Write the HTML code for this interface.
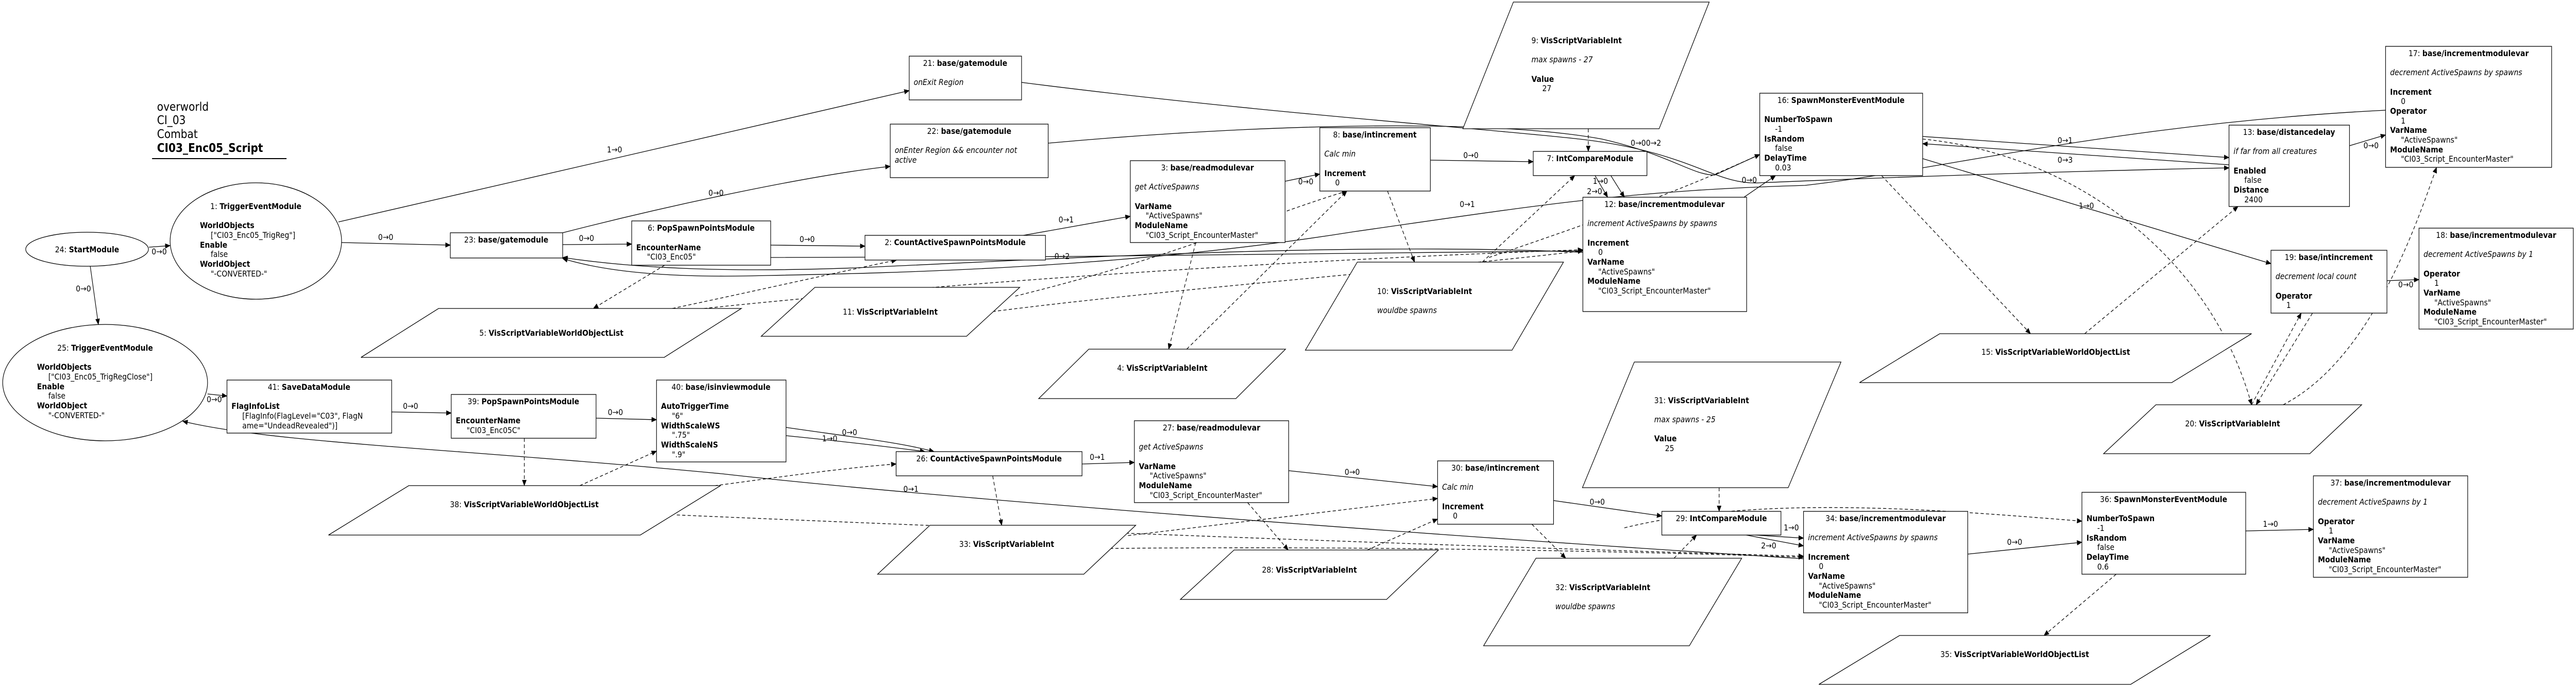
<!DOCTYPE html>
<html><head><meta charset="utf-8"><style>
html,body{margin:0;padding:0;background:#fff;width:100%;height:100%;overflow:hidden}
svg{display:block;width:100vw;height:100vh}
text{font-family:"DejaVu Sans","Liberation Sans",sans-serif;font-size:16px;fill:#000}
.b{font-weight:bold}
.i{font-style:italic}
.c{text-anchor:middle}
.n{fill:#fff;stroke:#000;stroke-width:1.3}
.e{fill:none;stroke:#000;stroke-width:1.3}
.d{fill:none;stroke:#000;stroke-width:1.3;stroke-dasharray:7,5}
.l{font-size:15px}
</style></head><body>
<svg viewBox="0 0 5709 1336" preserveAspectRatio="none" xmlns="http://www.w3.org/2000/svg" overflow="hidden">
<defs><marker id="a" markerWidth="12" markerHeight="10" refX="11" refY="5" orient="auto" markerUnits="userSpaceOnUse"><path d="M0,0 L12,5 L0,10 z" fill="#000"/></marker></defs>

<text x="348" y="215" style="font-size:23px">overworld</text>
<text x="348" y="241" style="font-size:23px">CI_03</text>
<text x="348" y="268" style="font-size:23px">Combat</text>
<text x="348" y="295" class="b" style="font-size:23px">CI03_Enc05_Script</text>
<line x1="337" y1="308" x2="635" y2="308" stroke="#000" stroke-width="2"/>

<g class="e" marker-end="url(#a)">
<path d="M330,480 L377,477"/>
<path d="M200,517 L218,630"/>
<path d="M750,431 L2015,176"/>
<path d="M1247,452 C1500,395 1800,340 1973,323"/>
<path d="M757,471 L998,476"/>
<path d="M1247,475 L1400,474"/>
<path d="M1708,476 L1917,478"/>
<path d="M2268,457 L2505,420"/>
<path d="M2848,352 L2925,338"/>
<path d="M3170,311 L3398,314"/>
<path d="M3535,341 L3563,383"/>
<path d="M3570,341 L3600,383"/>
<path d="M2264,160 C2800,220 3300,250 3500,270 C3750,295 3800,360 3900,355 C4300,340 4700,330 4940,326"/>
<path d="M2323,278 C2800,240 3300,230 3550,270 C3700,300 3750,340 3800,340 L3900,300"/>
<path d="M3865,383 L3935,341"/>
<path d="M3508,490 C3000,470 2400,500 1900,520 C1600,530 1400,520 1247,500"/>
<path d="M5287,214 C4700,240 4300,330 4000,360 C3600,370 3400,400 3000,450 C2500,520 2000,530 1700,535 C1500,540 1350,530 1247,502"/>
<path d="M1700,500 C2300,500 3000,495 3508,487"/>
<path d="M4261,265 L4940,306"/>
<path d="M4940,320 L4261,279"/>
<path d="M4261,308 L5033,512"/>
<path d="M5207,283 L5287,262"/>
<path d="M5290,545 L5361,543"/>
<path d="M460,765 L503,769"/>
<path d="M868,800 L1000,802"/>
<path d="M1321,812 L1455,815"/>
<path d="M1742,830 C1900,850 2000,860 2070,877"/>
<path d="M1742,846 C1900,860 1990,870 2050,877"/>
<path d="M2398,901 L2514,898"/>
<path d="M2856,914 L3186,945"/>
<path d="M3443,972 L3683,1002"/>
<path d="M3890,1039 L3997,1045"/>
<path d="M3870,1039 L3997,1060"/>
<path d="M4361,1076 L4614,1053"/>
<path d="M4977,1031 L5127,1028"/>
<path d="M3997,1085 C3000,1030 2000,960 1600,920 C1000,870 600,860 405,818"/>
</g>

<g class="d" marker-end="url(#a)">
<path d="M1473,515 L1315,599"/>
<path d="M1490,599 C1700,560 1850,530 1987,505"/>
<path d="M1560,599 C2200,540 3000,500 3508,485"/>
<path d="M2250,575 C2600,500 2800,420 2985,371"/>
<path d="M2200,605 C2600,560 3200,520 3508,487"/>
<path d="M2650,471 L2590,678"/>
<path d="M2630,678 L2985,371"/>
<path d="M3075,371 L3135,509"/>
<path d="M3285,509 L3490,341"/>
<path d="M3520,250 L3520,294"/>
<path d="M3300,500 C3500,440 3700,380 3900,300"/>
<path d="M4170,341 L4500,648"/>
<path d="M4620,648 L4960,401"/>
<path d="M4261,270 C4600,300 4900,500 4990,786"/>
<path d="M4990,786 L5100,608"/>
<path d="M5125,608 L5000,786"/>
<path d="M5060,786 C5250,700 5350,450 5400,325"/>
<path d="M1162,851 L1162,943"/>
<path d="M1285,943 L1455,876"/>
<path d="M1500,953 C1700,930 1850,910 1986,901"/>
<path d="M2200,924 L2220,1020"/>
<path d="M2500,1040 L3186,968"/>
<path d="M2765,976 L2855,1068"/>
<path d="M3030,1068 L3186,1008"/>
<path d="M3395,1018 L3470,1084"/>
<path d="M3710,1084 L3760,1039"/>
<path d="M3810,947 L3810,993"/>
<path d="M1500,1000 C2300,1030 3200,1060 3997,1080"/>
<path d="M2460,1065 C3000,1060 3600,1070 3997,1082"/>
<path d="M3600,1025 C3900,960 4300,990 4614,1012"/>
<path d="M4690,1115 L4530,1234"/>
</g>

<g class="l">
<text x="336" y="494">0→0</text><text x="168" y="566">0→0</text>
<text x="1345" y="296">1→0</text><text x="1570" y="380">0→0</text>
<text x="838" y="466">0→0</text><text x="1283" y="468">0→0</text>
<text x="1772" y="470">0→0</text><text x="2346" y="432">0→1</text>
<text x="2877" y="358">0→0</text><text x="3243" y="307">0→0</text>
<text x="3530" y="357">1→0</text><text x="3517" y="377">2→0</text>
<text x="3614" y="283">0→00→2</text><text x="3860" y="355">0→0</text>
<text x="3235" y="402">0→1</text><text x="2337" y="503">0→2</text>
<text x="4560" y="278">0→1</text><text x="4560" y="316">0→3</text>
<text x="4607" y="405">1→0</text><text x="5238" y="288">0→0</text>
<text x="5315" y="558">0→0</text>
<text x="458" y="781">0→0</text><text x="893" y="794">0→0</text>
<text x="1347" y="806">0→0</text><text x="1866" y="845">0→0</text><text x="1822" y="857">1→0</text>
<text x="2415" y="893">0→1</text><text x="2980" y="922">0→0</text>
<text x="3523" y="980">0→0</text><text x="3953" y="1030">1→0</text><text x="3903" y="1065">2→0</text>
<text x="4448" y="1058">0→0</text><text x="5015" y="1023">1→0</text>
<text x="2002" y="955">0→1</text>
</g>

<ellipse class="n" cx="193" cy="484" rx="136" ry="33"/>
<text x="193" y="490" class="c">24: <tspan class="b">StartModule</tspan></text>
<ellipse class="n" cx="567" cy="468" rx="190" ry="113"/>
<text x="567" y="406" class="c">1: <tspan class="b">TriggerEventModule</tspan></text>
<text x="443" y="443" class="b">WorldObjects</text><text x="467" y="462">["CI03_Enc05_TrigReg"]</text>
<text x="443" y="481" class="b">Enable</text><text x="467" y="499">false</text>
<text x="443" y="518" class="b">WorldObject</text><text x="467" y="537">"-CONVERTED-"</text>
<ellipse class="n" cx="233" cy="743" rx="227" ry="113"/>
<text x="233" y="681" class="c">25: <tspan class="b">TriggerEventModule</tspan></text>
<text x="82" y="718" class="b">WorldObjects</text><text x="107" y="737">["CI03_Enc05_TrigRegClose"]</text>
<text x="82" y="756" class="b">Enable</text><text x="107" y="774">false</text>
<text x="82" y="793" class="b">WorldObject</text><text x="107" y="812">"-CONVERTED-"</text>

<g class="n">
<polygon points="972,599 1643,599 1472,694 800,694"/>
<polygon points="1806,558 2260,558 2142,653 1687,653"/>
<polygon points="2413,678 2849,678 2739,774 2302,774"/>
<polygon points="3008,509 3465,509 3351,680 2893,680"/>
<polygon points="3354,4 3788,4 3677,250 3242,250"/>
<polygon points="4299,648 4990,648 4813,743 4121,743"/>
<polygon points="4778,786 5234,786 5119,881 4662,881"/>
<polygon points="906,943 1597,943 1419,1039 728,1039"/>
<polygon points="2061,1020 2517,1020 2402,1115 1945,1115"/>
<polygon points="2735,1068 3188,1068 3073,1164 2616,1164"/>
<polygon points="3622,703 4080,703 3963,947 3507,947"/>
<polygon points="3404,1084 3860,1084 3744,1254 3288,1254"/>
<polygon points="4210,1234 4899,1234 4722,1329 4031,1329"/>
</g>
<text x="1222" y="652" class="c">5: <tspan class="b">VisScriptVariableWorldObjectList</tspan></text>
<text x="1973" y="611" class="c">11: <tspan class="b">VisScriptVariableInt</tspan></text>
<text x="2576" y="720" class="c">4: <tspan class="b">VisScriptVariableInt</tspan></text>
<text x="3052" y="571">10: <tspan class="b">VisScriptVariableInt</tspan></text>
<text x="3052" y="608" class="i">wouldbe spawns</text>
<text x="3394" y="84">9: <tspan class="b">VisScriptVariableInt</tspan></text>
<text x="3394" y="121" class="i">max spawns - 27</text>
<text x="3394" y="159" class="b">Value</text><text x="3418" y="177">27</text>
<text x="4556" y="689" class="c">15: <tspan class="b">VisScriptVariableWorldObjectList</tspan></text>
<text x="4948" y="828" class="c">20: <tspan class="b">VisScriptVariableInt</tspan></text>
<text x="1162" y="985" class="c">38: <tspan class="b">VisScriptVariableWorldObjectList</tspan></text>
<text x="2231" y="1062" class="c">33: <tspan class="b">VisScriptVariableInt</tspan></text>
<text x="2902" y="1112" class="c">28: <tspan class="b">VisScriptVariableInt</tspan></text>
<text x="3666" y="783">31: <tspan class="b">VisScriptVariableInt</tspan></text>
<text x="3666" y="820" class="i">max spawns - 25</text>
<text x="3666" y="857" class="b">Value</text><text x="3690" y="876">25</text>
<text x="3447" y="1146">32: <tspan class="b">VisScriptVariableInt</tspan></text>
<text x="3447" y="1183" class="i">wouldbe spawns</text>
<text x="4465" y="1276" class="c">35: <tspan class="b">VisScriptVariableWorldObjectList</tspan></text>

<g class="n">
<rect x="2015" y="109" width="249" height="85"/>
<rect x="1973" y="241" width="350" height="104"/>
<rect x="2925" y="248" width="245" height="123"/>
<rect x="2505" y="312" width="343" height="159"/>
<rect x="3398" y="294" width="252" height="47"/>
<rect x="3508" y="383" width="363" height="222"/>
<rect x="1917" y="457" width="400" height="48"/>
<rect x="1400" y="429" width="308" height="86"/>
<rect x="998" y="452" width="249" height="49"/>
<rect x="3900" y="181" width="361" height="160"/>
<rect x="4940" y="243" width="267" height="158"/>
<rect x="5287" y="90" width="368" height="235"/>
<rect x="5033" y="486" width="257" height="122"/>
<rect x="5361" y="443" width="342" height="196"/>
<rect x="503" y="738" width="365" height="103"/>
<rect x="1000" y="766" width="321" height="85"/>
<rect x="1455" y="738" width="287" height="159"/>
<rect x="1986" y="877" width="412" height="47"/>
<rect x="2514" y="817" width="342" height="159"/>
<rect x="3186" y="895" width="257" height="123"/>
<rect x="3683" y="993" width="264" height="46"/>
<rect x="3997" y="993" width="364" height="197"/>
<rect x="4614" y="956" width="363" height="159"/>
<rect x="5127" y="924" width="342" height="197"/>
</g>

<text x="2139" y="128" class="c">21: <tspan class="b">base/gatemodule</tspan></text>
<text x="2025" y="165" class="i">onExit Region</text>
<text x="2148" y="260" class="c">22: <tspan class="b">base/gatemodule</tspan></text>
<text x="1983" y="297" class="i">onEnter Region &amp;&amp; encounter not</text>
<text x="1983" y="316" class="i">active</text>
<text x="3047" y="267" class="c">8: <tspan class="b">base/intincrement</tspan></text>
<text x="2935" y="304" class="i">Calc min</text>
<text x="2935" y="342" class="b">Increment</text><text x="2959" y="360">0</text>
<text x="2676" y="331" class="c">3: <tspan class="b">base/readmodulevar</tspan></text>
<text x="2515" y="368" class="i">get ActiveSpawns</text>
<text x="2515" y="406" class="b">VarName</text><text x="2539" y="424">"ActiveSpawns"</text>
<text x="2515" y="443" class="b">ModuleName</text><text x="2539" y="462">"CI03_Script_EncounterMaster"</text>
<text x="3524" y="313" class="c">7: <tspan class="b">IntCompareModule</tspan></text>
<text x="3689" y="402" class="c">12: <tspan class="b">base/incrementmodulevar</tspan></text>
<text x="3518" y="439" class="i">increment ActiveSpawns by spawns</text>
<text x="3518" y="477" class="b">Increment</text><text x="3542" y="495">0</text>
<text x="3518" y="514" class="b">VarName</text><text x="3542" y="533">"ActiveSpawns"</text>
<text x="3518" y="551" class="b">ModuleName</text><text x="3542" y="570">"CI03_Script_EncounterMaster"</text>
<text x="2117" y="476" class="c">2: <tspan class="b">CountActiveSpawnPointsModule</tspan></text>
<text x="1554" y="448" class="c">6: <tspan class="b">PopSpawnPointsModule</tspan></text>
<text x="1410" y="486" class="b">EncounterName</text><text x="1434" y="504">"CI03_Enc05"</text>
<text x="1122" y="471" class="c">23: <tspan class="b">base/gatemodule</tspan></text>
<text x="4080" y="200" class="c">16: <tspan class="b">SpawnMonsterEventModule</tspan></text>
<text x="3910" y="237" class="b">NumberToSpawn</text><text x="3934" y="256">-1</text>
<text x="3910" y="275" class="b">IsRandom</text><text x="3934" y="293">false</text>
<text x="3910" y="312" class="b">DelayTime</text><text x="3934" y="331">0.03</text>
<text x="5073" y="262" class="c">13: <tspan class="b">base/distancedelay</tspan></text>
<text x="4950" y="299" class="i">if far from all creatures</text>
<text x="4950" y="337" class="b">Enabled</text><text x="4974" y="355">false</text>
<text x="4950" y="374" class="b">Distance</text><text x="4974" y="393">2400</text>
<text x="5471" y="109" class="c">17: <tspan class="b">base/incrementmodulevar</tspan></text>
<text x="5297" y="146" class="i">decrement ActiveSpawns by spawns</text>
<text x="5297" y="184" class="b">Increment</text><text x="5321" y="202">0</text>
<text x="5297" y="221" class="b">Operator</text><text x="5321" y="240">1</text>
<text x="5297" y="258" class="b">VarName</text><text x="5321" y="277">"ActiveSpawns"</text>
<text x="5297" y="296" class="b">ModuleName</text><text x="5321" y="314">"CI03_Script_EncounterMaster"</text>
<text x="5161" y="505" class="c">19: <tspan class="b">base/intincrement</tspan></text>
<text x="5043" y="542" class="i">decrement local count</text>
<text x="5043" y="580" class="b">Operator</text><text x="5067" y="598">1</text>
<text x="5532" y="462" class="c">18: <tspan class="b">base/incrementmodulevar</tspan></text>
<text x="5371" y="499" class="i">decrement ActiveSpawns by 1</text>
<text x="5371" y="537" class="b">Operator</text><text x="5395" y="555">1</text>
<text x="5371" y="574" class="b">VarName</text><text x="5395" y="593">"ActiveSpawns"</text>
<text x="5371" y="611" class="b">ModuleName</text><text x="5395" y="630">"CI03_Script_EncounterMaster"</text>
<text x="685" y="757" class="c">41: <tspan class="b">SaveDataModule</tspan></text>
<text x="513" y="794" class="b">FlagInfoList</text>
<text x="537" y="813">[FlagInfo(FlagLevel="C03", FlagN</text>
<text x="537" y="832">ame="UndeadRevealed")]</text>
<text x="1160" y="785" class="c">39: <tspan class="b">PopSpawnPointsModule</tspan></text>
<text x="1010" y="822" class="b">EncounterName</text><text x="1034" y="841">"CI03_Enc05C"</text>
<text x="1598" y="757" class="c">40: <tspan class="b">base/isinviewmodule</tspan></text>
<text x="1465" y="794" class="b">AutoTriggerTime</text><text x="1489" y="813">"6"</text>
<text x="1465" y="832" class="b">WidthScaleWS</text><text x="1489" y="850">".75"</text>
<text x="1465" y="869" class="b">WidthScaleNS</text><text x="1489" y="888">".9"</text>
<text x="2192" y="896" class="c">26: <tspan class="b">CountActiveSpawnPointsModule</tspan></text>
<text x="2685" y="836" class="c">27: <tspan class="b">base/readmodulevar</tspan></text>
<text x="2524" y="873" class="i">get ActiveSpawns</text>
<text x="2524" y="911" class="b">VarName</text><text x="2548" y="929">"ActiveSpawns"</text>
<text x="2524" y="948" class="b">ModuleName</text><text x="2548" y="967">"CI03_Script_EncounterMaster"</text>
<text x="3314" y="914" class="c">30: <tspan class="b">base/intincrement</tspan></text>
<text x="3196" y="951" class="i">Calc min</text>
<text x="3196" y="989" class="b">Increment</text><text x="3220" y="1007">0</text>
<text x="3815" y="1012" class="c">29: <tspan class="b">IntCompareModule</tspan></text>
<text x="4179" y="1012" class="c">34: <tspan class="b">base/incrementmodulevar</tspan></text>
<text x="4007" y="1049" class="i">increment ActiveSpawns by spawns</text>
<text x="4007" y="1087" class="b">Increment</text><text x="4031" y="1105">0</text>
<text x="4007" y="1124" class="b">VarName</text><text x="4031" y="1143">"ActiveSpawns"</text>
<text x="4007" y="1161" class="b">ModuleName</text><text x="4031" y="1180">"CI03_Script_EncounterMaster"</text>
<text x="4795" y="975" class="c">36: <tspan class="b">SpawnMonsterEventModule</tspan></text>
<text x="4624" y="1012" class="b">NumberToSpawn</text><text x="4648" y="1031">-1</text>
<text x="4624" y="1050" class="b">IsRandom</text><text x="4648" y="1068">false</text>
<text x="4624" y="1087" class="b">DelayTime</text><text x="4648" y="1106">0.6</text>
<text x="5298" y="943" class="c">37: <tspan class="b">base/incrementmodulevar</tspan></text>
<text x="5137" y="980" class="i">decrement ActiveSpawns by 1</text>
<text x="5137" y="1018" class="b">Operator</text><text x="5161" y="1036">1</text>
<text x="5137" y="1055" class="b">VarName</text><text x="5161" y="1074">"ActiveSpawns"</text>
<text x="5137" y="1092" class="b">ModuleName</text><text x="5161" y="1111">"CI03_Script_EncounterMaster"</text>
</svg>
</body></html>
